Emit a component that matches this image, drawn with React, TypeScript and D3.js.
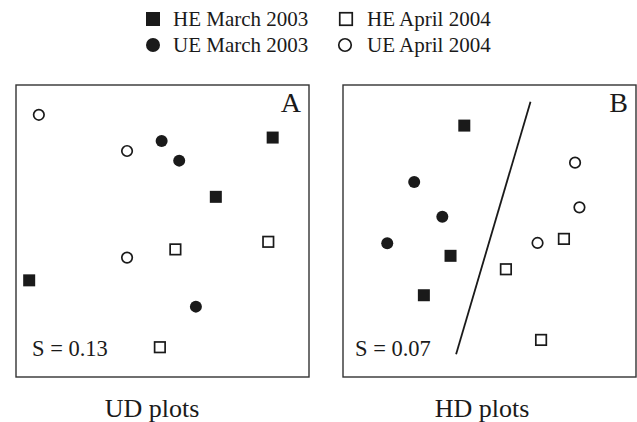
import React from 'react'
import * as d3 from 'd3'

// panel coordinates, 0..100 in both directions (y up)
const seriesNames = ['HE March 2003', 'UE March 2003', 'HE April 2004', 'UE April 2004']

const udHEMarch = [[87.6, 82.0], [68.2, 61.7], [4.5, 33.1]]
const udUEMarch = [[49.7, 80.8], [55.7, 74.1], [61.4, 24.1]]
const udHEApril = [[86.1, 46.3], [54.4, 43.7], [49.1, 10.2]]
const udUEApril = [[7.8, 89.8], [37.9, 77.4], [37.9, 40.9]]

const hdHEMarch = [[41.4, 86.1], [36.7, 41.5], [27.6, 28.0]]
const hdUEMarch = [[24.3, 66.8], [33.9, 54.9], [15.1, 45.8]]
const hdHEApril = [[75.4, 47.3], [55.6, 36.9], [67.6, 12.7]]
const hdUEApril = [[79.2, 73.4], [80.7, 58.1], [66.4, 45.9]]
const hdDivider = [[64.0, 94.3], [38.6, 7.8]]

const panelLetters = ['A', 'B']
const stressValues = ['S = 0.13', 'S = 0.07']
const panelTitles = ['UD plots', 'HD plots']

const font = '"Liberation Serif", "Times New Roman", serif'
const ink = '#1a1a1a'

type Pt = number[]

const Marker = ({ kind, x, y, big }: { kind: number; x: number; y: number; big?: boolean }) => {
  const s = big ? 14 : 12
  const o = big ? 12.5 : 10.5
  if (kind === 0) return <rect x={x - s / 2} y={y - s / 2} width={s} height={s} fill={ink} />
  if (kind === 1) return <circle cx={x} cy={y} r={s / 2} fill={ink} />
  if (kind === 2)
    return <rect x={x - o / 2} y={y - o / 2} width={o} height={o} fill="white" stroke={ink} strokeWidth={1.7} />
  return <circle cx={x} cy={y} r={o / 2} fill="white" stroke={ink} strokeWidth={1.7} />
}

const Panel = ({ idx, left, series, divider }: { idx: number; left: number; series: Pt[][]; divider?: Pt[] }) => {
  const top = 85
  const w = 293
  const h = 292
  const x = d3.scaleLinear().domain([0, 100]).range([left, left + w])
  const y = d3.scaleLinear().domain([0, 100]).range([top + h, top])
  const line = d3.line<Pt>().x(d => x(d[0])).y(d => y(d[1]))
  return (
    <g>
      <rect x={left} y={top} width={w} height={h} fill="none" stroke="#333" strokeWidth={1.4} />
      {divider && <path d={line(divider) || ''} stroke={ink} strokeWidth={1.8} fill="none" />}
      {series.map((pts, k) => pts.map((p, i) => <Marker key={k + '-' + i} kind={k} x={x(p[0])} y={y(p[1])} />))}
      <text x={left + w - 8} y={112} textAnchor="end" fontSize={28} fontFamily={font} fill={ink}>
        {panelLetters[idx]}
      </text>
      <text x={left + (idx === 0 ? 16 : 12)} y={356} fontSize={22.5} fontFamily={font} fill={ink}>
        {stressValues[idx]}
      </text>
      <text x={idx === 0 ? 152 : 482} y={417} textAnchor="middle" fontSize={26} fontFamily={font} fill={ink}>
        {panelTitles[idx]}
      </text>
    </g>
  )
}

const App = () => {
  const legendPos = [
    [153, 19, 173, 26],
    [153, 45, 173, 52],
    [346, 19, 367, 26],
    [345, 45, 367, 52],
  ]
  return (
    <svg width={637} height={422} style={{ position: 'absolute', left: 0, top: 0, background: 'white' }}>
      {seriesNames.map((name, k) => (
        <g key={name}>
          <Marker kind={k} x={legendPos[k][0]} y={legendPos[k][1]} big />
          <text x={legendPos[k][2]} y={legendPos[k][3]} fontSize={21} fontFamily={font} fill={ink}>
            {name}
          </text>
        </g>
      ))}
      <Panel idx={0} left={16} series={[udHEMarch, udUEMarch, udHEApril, udUEApril]} />
      <Panel idx={1} left={343} series={[hdHEMarch, hdUEMarch, hdHEApril, hdUEApril]} divider={hdDivider} />
    </svg>
  )
}

export default App
